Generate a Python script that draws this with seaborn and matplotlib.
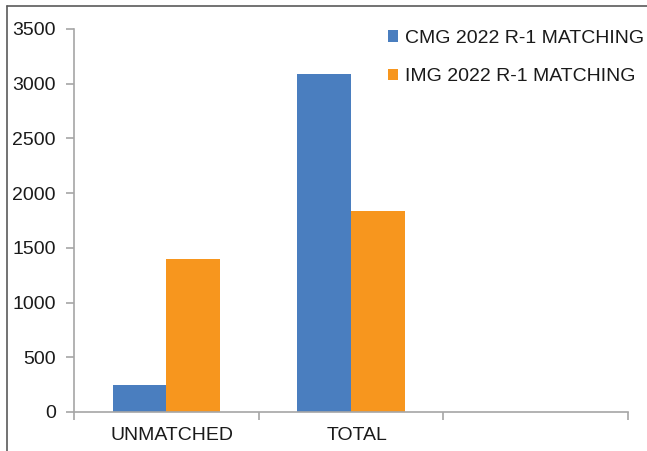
import matplotlib
matplotlib.use("Agg")
import matplotlib.pyplot as plt
import matplotlib.transforms as mtransforms
import seaborn as sns
import pandas as pd
from matplotlib.lines import Line2D

categories = ["UNMATCHED", "TOTAL"]
series_names = ["CMG 2022 R-1 MATCHING", "IMG 2022 R-1 MATCHING"]
cmg_values = [250, 3090]
img_values = [1400, 1840]
y_ticks = [0, 500, 1000, 1500, 2000, 2500, 3000, 3500]
colors = ["#4a7ebf", "#f7961e"]

df = pd.DataFrame({
    "category": categories * 2,
    "series": [series_names[0]] * len(categories) + [series_names[1]] * len(categories),
    "value": cmg_values + img_values,
})

sns.set_theme(style="white")
plt.rcParams["font.family"] = ["Liberation Sans", "DejaVu Sans"]

FS = 14

fig = plt.figure(figsize=(6.47, 4.51), dpi=100)
ax = fig.add_axes([0.1144, 0.0865, 0.9706 - 0.1144, 0.9357 - 0.0865])

sns.barplot(data=df, x="category", y="value", hue="series", order=categories + [" "],
            palette=colors, width=0.58, gap=0, saturation=1, ax=ax, errorbar=None,
            linewidth=0)

ax.set_xlim(-0.5, 2.5)
ax.set_ylim(0, 3500)
ax.set_yticks(y_ticks)
ax.set_yticklabels([str(v) for v in y_ticks])
ax.set_xlabel("")
ax.set_ylabel("")

# category boundaries carry the tick marks, labels sit in the middle of each slot
ax.set_xticks([-0.5, 0.5, 1.5, 2.5])
ax.set_xticklabels([])
ax.set_xticks([0, 1, 2], minor=True)
ax.set_xticklabels(categories + [""], minor=True)
ax.tick_params(axis="x", which="major", bottom=True, length=6, width=1.2,
               color="#a6a6a6", direction="out")
ax.tick_params(axis="x", which="minor", bottom=True, length=0, pad=11,
               labelsize=FS, labelcolor="#1a1a1a")
ax.tick_params(axis="y", left=True, length=6, width=1.2, color="#a6a6a6", direction="out",
               labelsize=FS, labelcolor="#1a1a1a", pad=7)

# nudge category labels slightly to the right
shift = mtransforms.ScaledTranslation(6 / 100, 0, fig.dpi_scale_trans)
for lbl in ax.get_xticklabels(minor=True):
    lbl.set_transform(lbl.get_transform() + shift)

for side in ["top", "right"]:
    ax.spines[side].set_visible(False)
for side in ["left", "bottom"]:
    ax.spines[side].set_color("#a6a6a6")
    ax.spines[side].set_linewidth(1.2)

leg = ax.legend(loc="upper left", frameon=False,
                fontsize=FS, handlelength=0.52, handleheight=0.52, handletextpad=0.38,
                labelspacing=1.1, borderaxespad=0, borderpad=0.4)
for t in leg.get_texts():
    t.set_color("#1a1a1a")
leg.set_bbox_to_anchor((0.587, 0.951), transform=fig.transFigure)

# chart frame: top and left edges of the outer border
frame_kw = dict(transform=fig.transFigure, color="#5a5a5a", linewidth=1.2)
fig.add_artist(Line2D([0.0103, 1.0], [0.9875, 0.9875], **frame_kw))
fig.add_artist(Line2D([0.0103, 0.0103], [0.0, 0.9875], **frame_kw))

fig.savefig("out.png", dpi=100)
